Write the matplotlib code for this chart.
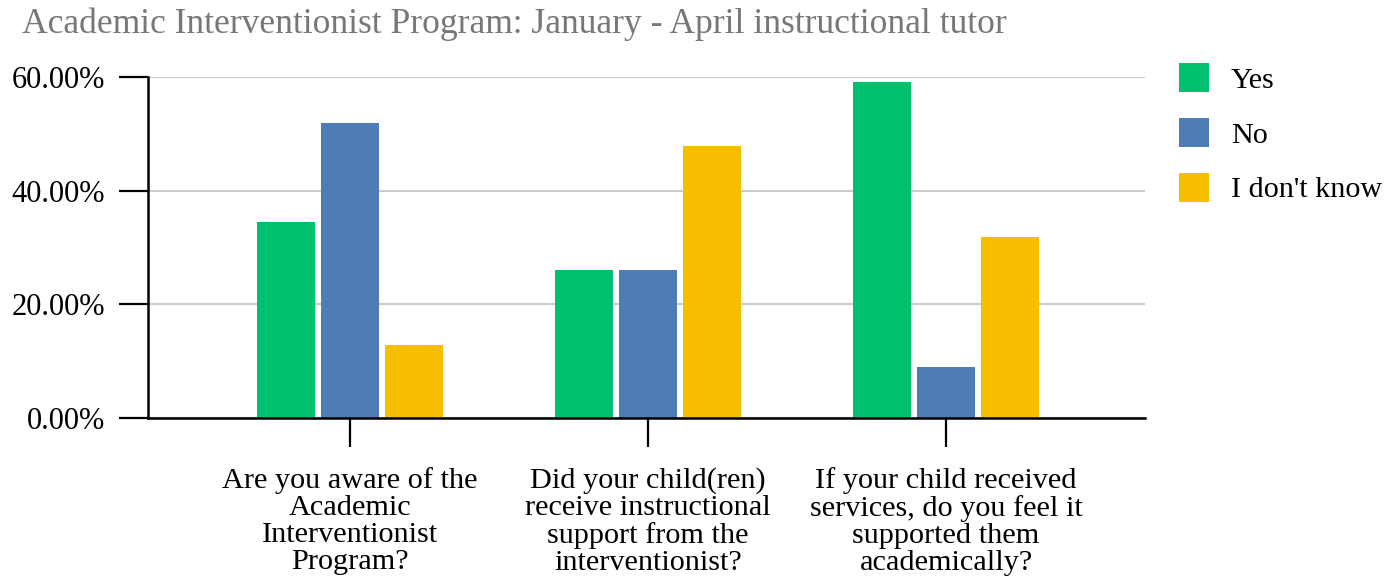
import numpy as np
import matplotlib.pyplot as plt
from matplotlib.patches import Patch
from matplotlib.ticker import FuncFormatter

plt.rcParams['font.family'] = ['Liberation Serif', 'DejaVu Serif']

questions = [
    "Are you aware of the\nAcademic\nInterventionist\nProgram?",
    "Did your child(ren)\nreceive instructional\nsupport from the\ninterventionist?",
    "If your child received\nservices, do you feel it\nsupported them\nacademically?",
]
series = ["Yes", "No", "I don't know"]
yes = [34.5, 26.0, 59.1]
no = [51.9, 26.0, 9.0]
dont_know = [12.8, 47.9, 31.8]
colors = ["#00BF6F", "#507CB6", "#F7BE00"]

fig = plt.figure(figsize=(14, 5.88), dpi=100)
ax = fig.add_axes([0.1057, 0.289, 0.7122, 0.580])

x = np.arange(len(questions))
w = 0.195
step = 0.215
for i, vals in enumerate([yes, no, dont_know]):
    ax.bar(x + (i - 1) * step, vals, width=w, color=colors[i], zorder=3)

ax.set_xlim(-0.678, 2.668)
ax.set_ylim(0, 60)
ax.set_yticks([0, 20, 40, 60])
ax.yaxis.set_major_formatter(FuncFormatter(lambda v, p: f"{v:.2f}%"))
ax.set_xticks(x)
ax.set_xticklabels(questions, fontsize=21.8, linespacing=1.05)
ax.tick_params(axis='y', labelsize=22, length=21, width=1.6, pad=10)
ax.tick_params(axis='x', length=21, width=1.6, pad=14)
ax.grid(axis='y', color='#CCCCCC', linewidth=1.5, zorder=0)
for s in ['top', 'right']:
    ax.spines[s].set_visible(False)
for s in ['left', 'bottom']:
    ax.spines[s].set_linewidth(1.8)
    ax.spines[s].set_zorder(4)

fig.text(0.016, 0.958, "Academic Interventionist Program: January - April instructional tutor",
         fontsize=25.6, color='#777777', va='center', ha='left')

handles = [Patch(facecolor=c, label=l) for c, l in zip(colors, series)]
fig.legend(handles=handles, loc='upper left', bbox_to_anchor=(0.8226, 0.939),
           frameon=False, fontsize=21.7, handlelength=1.0, handleheight=1.1,
           labelspacing=0.8, handletextpad=0.73)

fig.savefig("out.png", dpi=100)
